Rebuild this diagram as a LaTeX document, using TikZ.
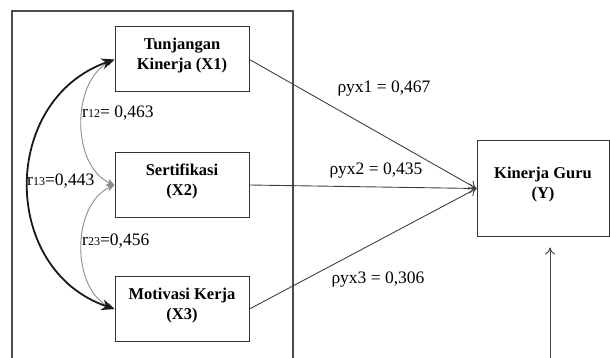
\documentclass[tikz,border=0pt]{standalone}
\usepackage{fontspec}
\setmainfont{Liberation Serif}
\usetikzlibrary{arrows.meta}

\tikzset{
  varbox/.style={draw=black!80, line width=1pt, minimum width=134pt, minimum height=65pt,
    inner sep=0pt, text depth=11pt, align=center, font=\fontsize{16.5}{20}\selectfont\bfseries},
  coefflabel/.style={font=\fontsize{17.5}{20}\selectfont, inner sep=0pt},
  pathline/.style={draw=black!75, line width=0.9pt, -{To[length=7pt,width=10pt]}},
  corrbig/.style={draw=black!90, line width=1.8pt, {Stealth[length=13pt,width=11pt]}-{Stealth[length=13pt,width=11pt]}},
  corrsmall/.style={draw=black!45, line width=0.9pt, {Stealth[length=8pt,width=7pt]}-{Stealth[length=8pt,width=7pt]}}
}

\newcommand{\rsub}[1]{{\fontsize{12}{12}\selectfont #1}}

\begin{document}
\begin{tikzpicture}[x=1pt, y=-1pt]
  \useasboundingbox (0,0) rectangle (610,358);

  % outer frame round the exogenous variables
  \draw [draw=black!70, line width=1.2pt] (12,358) -- (12,11) -- (293,11) -- (293,358);

  % variable boxes
  \node [varbox] (x1) at (182,59.5) {Tunjangan\\Kinerja (X1)};
  \node [varbox] (x2) at (182,185) {Sertifikasi\\(X2)};
  \node [varbox] (x3) at (182,309) {Motivasi Kerja\\(X3)};
  \node [varbox, minimum width=132pt, minimum height=95pt] (y) at (543,188.5) {Kinerja Guru\\(Y)};

  % residual
  \coordinate (eps) at (550,358);
  \draw [pathline] (eps) -- ([yshift=-11pt]y.south -| eps);

  % paths to Y
  \draw [pathline] (x1.east) -- (y.west);
  \draw [pathline] (x2.east) -- (y.west);
  \draw [pathline] (x3.east) -- (y.west);
  \node [coefflabel] (p1) at (384,89) {ρyx1 = 0,467};
  \node [coefflabel] (p2) at (376,171) {ρyx2 = 0,435};
  \node [coefflabel] (p3) at (378,280) {ρyx3 = 0,306};

  % correlations
  \draw [corrsmall] (x1.west) .. controls (71,80) and (71,166) .. (x2.west);
  \draw [corrsmall] (x2.west) .. controls (71,205) and (71,290) .. (x3.west);
  \draw [corrbig] (x1.west) .. controls (0,100) and (0,270) .. (x3.west);
  \node [coefflabel, anchor=west] (r12) at (82,113) {r\rsub{12}= 0,463};
  \node [coefflabel, anchor=west] (r13) at (27,181) {r\rsub{13}=0,443};
  \node [coefflabel, anchor=west] (r23) at (82,241) {r\rsub{23}=0,456};
\end{tikzpicture}
\end{document}
